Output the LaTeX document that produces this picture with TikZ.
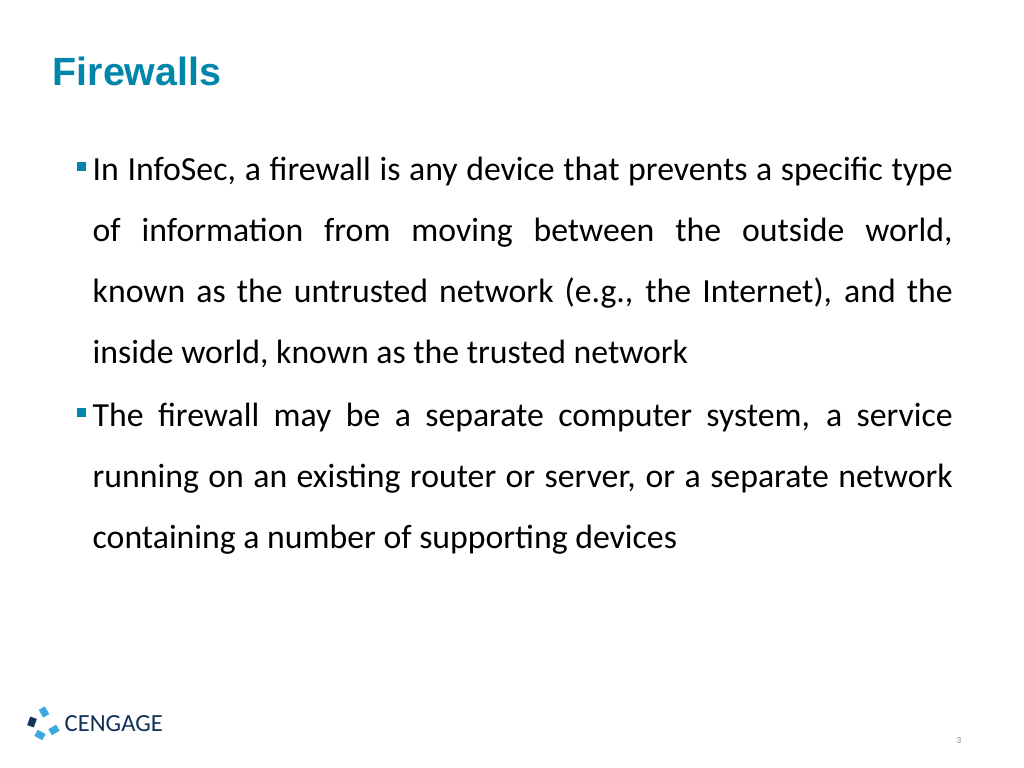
\documentclass[tikz,border=0pt]{standalone}
\usepackage{fontspec}
\setmainfont{Carlito}
\newfontfamily\titlefont{Liberation Sans}
\definecolor{teal}{RGB}{0,133,171}
\definecolor{navy}{RGB}{18,50,90}
\definecolor{sky}{RGB}{60,170,225}
\newlength\pxu \setlength\pxu{0.01cm}
\begin{document}
\begin{tikzpicture}[x=0.01cm,y=-0.01cm,
  body/.style={anchor=north west,inner sep=0pt,text width=860\pxu,align=justify,
    font=\fontsize{9.6pt}{17.4pt}\selectfont},
  bullet/.style={fill=teal,minimum size=9\pxu,inner sep=0pt},
  chip/.style={fill=sky,minimum width=7\pxu,minimum height=9\pxu,inner sep=0pt}]
  \useasboundingbox (0,0) rectangle (1024,768);
  \node[anchor=base west,inner sep=0pt,text=teal,font=\titlefont\bfseries\fontsize{11.2pt}{12pt}\selectfont] (title) at (52,86) {Firewalls};
  \node[bullet] (b1) at (81,167) {};
  \node[body] (p1) at (92,156) {In InfoSec, a firewall is any device that prevents a specific type\linebreak
    of information from moving between the outside world,\linebreak
    known as the untrusted network (e.g., the Internet), and the\linebreak
    inside world, known as the trusted network};
  \node[bullet] (b2) at (81,413) {};
  \node[body] (p2) at (92,402) {The firewall may be a separate computer system, a service\linebreak
    running on an existing router or server, or a separate network\linebreak
    containing a number of supporting devices};
  % logo
  \node[chip,rotate=30] (c1) at (44,712) {};
  \node[chip,fill=navy,rotate=-20] (c2) at (32,722) {};
  \node[chip,rotate=-60] (c3) at (54,730) {};
  \node[chip,rotate=60] (c4) at (40,735) {};
  \node[anchor=west,inner sep=0pt,text=navy,font=\fontsize{7pt}{8pt}\selectfont] (logo) at (64,724) {CENGAGE};
  \node[font=\fontsize{2.6pt}{3pt}\selectfont,text=gray] (page) at (959,741) {3};
\end{tikzpicture}
\end{document}
